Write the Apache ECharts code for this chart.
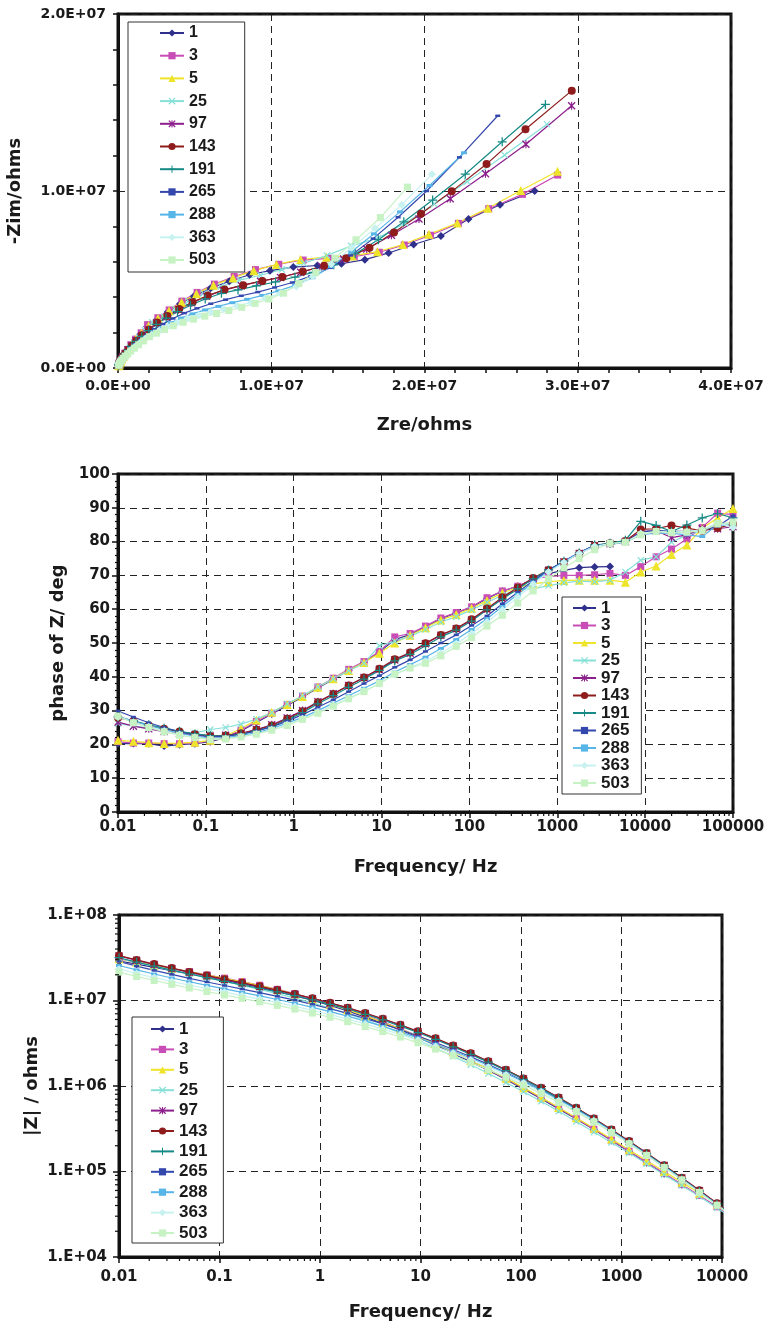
<!DOCTYPE html>
<html><head><meta charset="utf-8">
<script src="https://cdn.jsdelivr.net/npm/echarts@6/dist/echarts.min.js"></script>
<style>html,body{margin:0;padding:0;background:#fff}#c{width:767px;height:1326px}</style>
</head><body><div id="c"></div>
<script>
// ---------------- DATA ----------------
const seriesNames = ['1','3','5','25','97','143','191','265','288','363','503'];

// measurement frequencies (Hz)
const freqHz = [0.01,0.01496,0.02239,0.0335,0.05012,0.075,0.1122,0.1679,0.2512,0.3758,0.5623,0.8414,1.259,1.884,2.818,4.217,6.31,9.441,14.13,21.13,31.62,47.32,70.79,105.9,158.5,237.1,354.8,530.9,794.3,1189,1778,2661,3981,5957,8913,13340,19950,29850,44670,66830,100000];

// tick labels
const nyqReLabels = ['0.0E+00','1.0E+07','2.0E+07','3.0E+07','4.0E+07'];
const nyqImLabels = ['0.0E+00','1.0E+07','2.0E+07'];
const freqLabels = ['0.01','0.1','1','10','100','1000','10000','100000'];
const absZLabels = ['1.E+04','1.E+05','1.E+06','1.E+07','1.E+08'];

// phase of Z (deg) per series, same order as freqHz
const phase_1 = [20.2,20.3,20.2,19.5,19.9,20.2,20.8,22.0,24.0,26.5,29.0,31.5,34.0,36.7,39.3,41.9,44.3,47.3,51.0,52.5,54.8,57.2,58.9,60.6,63.2,65.3,66.8,68.8,70.5,71.5,72.3,72.5,72.6];
const phase_3 = [20.8,20.4,20.4,20.2,20.2,20.4,21.0,22.2,24.2,26.8,29.2,31.8,34.3,37.0,39.6,42.2,44.5,47.5,51.8,52.8,55.0,57.4,59.0,60.7,63.4,65.4,66.8,69.0,69.6,70.0,70.0,70.2,70.6,70.0,72.6,75.5,77.8,80.8,84.2,88.4,88.0];
const phase_5 = [21.2,20.9,20.5,20.3,20.4,20.6,21.2,22.5,24.7,27.2,29.5,31.8,34.2,36.9,39.4,41.9,44.2,47.0,50.0,52.3,54.5,56.8,58.4,60.3,62.6,64.8,66.5,67.5,68.1,68.5,68.6,68.6,68.6,68.0,71.0,72.8,76.2,79.0,84.0,87.0,89.8];
const phase_25 = [26.2,25.5,24.8,24.2,23.6,23.4,24.4,25.0,26.0,27.5,29.4,32.0,34.4,37.0,39.4,41.8,44.0,49.2,50.5,52.0,54.0,56.2,57.8,59.8,62.0,64.2,65.8,66.0,67.0,67.8,68.3,68.1,68.6,71.0,74.5,75.5,79.8,82.0,83.2,85.5,85.0];
const phase_97 = [26.6,25.4,24.6,23.8,23.2,22.8,22.5,22.7,23.3,24.4,25.8,27.8,30.0,32.6,35.0,37.4,39.8,42.2,45.0,47.0,49.8,52.3,54.2,56.8,60.0,63.2,66.2,69.0,71.5,74.0,76.5,78.8,79.4,80.0,83.0,83.2,81.2,82.0,83.8,83.8,84.4];
const phase_143 = [27.9,26.9,25.6,24.6,23.8,23.0,22.5,22.6,23.2,24.3,25.6,27.6,29.8,32.5,34.9,37.4,39.8,42.4,45.2,47.2,49.9,52.4,54.3,57.0,60.2,63.5,66.4,69.2,71.6,74.0,76.5,78.8,79.5,80.2,83.6,83.8,84.8,84.0,83.2,84.0,85.2];
const phase_191 = [28.1,27.0,25.8,24.8,23.9,23.1,22.6,22.5,23.0,24.0,25.3,27.2,29.4,32.0,34.4,36.9,39.3,41.9,44.7,46.6,49.2,51.8,53.8,56.5,59.8,63.0,66.0,69.0,71.6,74.2,76.6,79.0,79.5,80.4,86.0,84.8,83.0,84.9,87.0,88.3,87.0];
const phase_265 = [29.9,28.1,26.4,25.0,23.7,22.7,22.2,22.4,23.0,24.0,25.2,26.9,28.8,31.0,33.2,35.6,38.0,40.3,42.8,45.0,47.5,50.0,52.4,55.2,58.0,61.6,65.0,68.4,71.5,74.2,76.8,78.8,79.2,79.8,82.8,83.3,83.0,83.0,83.4,84.5,87.6];
const phase_288 = [28.3,26.9,25.6,24.4,23.3,22.4,21.9,22.0,22.6,23.5,24.7,26.3,28.0,30.0,32.2,34.4,36.6,38.8,41.4,43.6,45.8,48.4,51.0,54.0,57.2,60.8,64.4,68.0,71.2,74.0,76.6,78.6,79.3,79.8,82.0,82.6,82.5,82.0,81.5,85.0,84.6];
const phase_363 = [28.1,26.5,25.2,24.0,22.9,22.1,21.6,21.7,22.3,23.1,24.3,25.8,27.6,29.5,31.6,33.7,35.8,38.0,40.6,42.8,44.6,47.0,49.8,52.8,56.2,59.8,63.6,67.4,71.0,73.8,76.5,78.6,79.4,79.8,82.4,83.0,82.8,83.0,83.5,85.5,84.2];
const phase_503 = [28.4,26.4,25.0,23.7,22.7,22.0,21.4,21.6,22.2,23.0,24.2,25.6,27.4,29.2,31.3,33.5,35.6,38.0,40.8,42.6,44.0,46.2,49.0,51.6,55.0,58.2,61.8,65.4,69.0,72.2,75.0,77.6,79.5,79.8,82.0,83.0,82.6,82.8,83.2,85.2,85.8];

// |Z| (ohms) per series, same order as freqHz
const absZ_1 = [2.897e7,2.658e7,2.437e7,2.235e7,2.051e7,1.882e7,1.723e7,1.572e7,1.424e7,1.278e7,1.134e7,1.008e7,8.76e6,7.53e6,6.40e6,5.44e6,4.52e6,3.72e6,3.01e6,2.41e6,1.917e6,1.526e6,1.192e6,9.24e5,7.10e5,5.40e5,4.12e5,3.09e5,2.30e5,1.709e5,1.269e5,9.42e4,6.98e4];
const absZ_3 = [3.069e7,2.815e7,2.581e7,2.367e7,2.173e7,1.993e7,1.826e7,1.665e7,1.509e7,1.353e7,1.201e7,1.055e7,9.17e6,7.88e6,6.70e6,5.63e6,4.68e6,3.85e6,3.12e6,2.495e6,1.984e6,1.562e6,1.220e6,9.46e5,7.26e5,5.52e5,4.17e5,3.12e5,2.33e5,1.729e5,1.284e5,9.53e4,7.06e4,5.24e4,3.87e4,2.82e4];
const absZ_5 = [3.076e7,2.813e7,2.576e7,2.361e7,2.165e7,1.985e7,1.816e7,1.655e7,1.497e7,1.340e7,1.188e7,1.043e7,9.06e6,7.79e6,6.62e6,5.57e6,4.64e6,3.82e6,3.11e6,2.50e6,1.993e6,1.573e6,1.231e6,9.57e5,7.37e5,5.62e5,4.25e5,3.20e5,2.395e5,1.791e5,1.338e5,1.000e5,7.47e4,5.58e4,4.16e4,3.06e4];
const absZ_25 = [3.119e7,2.795e7,2.511e7,2.262e7,2.044e7,1.849e7,1.671e7,1.504e7,1.350e7,1.205e7,1.067e7,9.37e6,8.14e6,6.99e6,5.94e6,5.00e6,4.165e6,3.416e6,2.763e6,2.222e6,1.774e6,1.403e6,1.101e6,8.58e5,6.62e5,5.06e5,3.84e5,2.90e5,2.186e5,1.641e5,1.229e5,9.19e4,6.88e4,5.11e4,3.75e4,2.73e4];
const absZ_97 = [3.312e7,2.947e7,2.637e7,2.369e7,2.137e7,1.935e7,1.757e7,1.596e7,1.448e7,1.309e7,1.177e7,1.051e7,9.30e6,8.15e6,7.06e6,6.05e6,5.14e6,4.31e6,3.58e6,2.94e6,2.39e6,1.925e6,1.534e6,1.211e6,9.44e5,7.26e5,5.51e5,4.13e5,3.06e5,2.245e5,1.63e5,1.172e5,8.37e4,5.96e4,4.20e4,2.95e4];
const absZ_143 = [3.350e7,2.981e7,2.667e7,2.396e7,2.161e7,1.957e7,1.776e7,1.614e7,1.464e7,1.324e7,1.190e7,1.063e7,9.41e6,8.24e6,7.14e6,6.12e6,5.20e6,4.36e6,3.62e6,2.976e6,2.421e6,1.947e6,1.552e6,1.225e6,9.55e5,7.34e5,5.57e5,4.17e5,3.09e5,2.27e5,1.648e5,1.185e5,8.46e4,6.03e4,4.25e4,2.98e4];
const absZ_191 = [3.163e7,2.814e7,2.518e7,2.262e7,2.040e7,1.848e7,1.677e7,1.524e7,1.382e7,1.264e7,1.137e7,1.015e7,8.99e6,7.96e6,6.90e6,5.92e6,5.02e6,4.22e6,3.50e6,2.875e6,2.34e6,1.902e6,1.516e6,1.197e6,9.33e5,7.17e5,5.44e5,4.08e5,3.02e5,2.22e5,1.61e5,1.158e5,8.27e4,5.89e4,4.15e4,2.91e4];
const absZ_265 = [2.858e7,2.526e7,2.249e7,2.017e7,1.818e7,1.647e7,1.497e7,1.361e7,1.236e7,1.119e7,1.008e7,9.02e6,8.01e6,7.06e6,6.16e6,5.32e6,4.55e6,3.85e6,3.23e6,2.677e6,2.199e6,1.788e6,1.438e6,1.144e6,8.99e5,6.97e5,5.33e5,4.01e5,2.98e5,2.185e5,1.585e5,1.139e5,8.14e4,5.80e4,4.11e4,2.88e4];
const absZ_288 = [2.564e7,2.280e7,2.040e7,1.834e7,1.657e7,1.503e7,1.368e7,1.246e7,1.134e7,1.028e7,9.28e6,8.32e6,7.42e6,6.56e6,5.74e6,4.98e6,4.29e6,3.65e6,3.08e6,2.569e6,2.124e6,1.739e6,1.408e6,1.126e6,8.89e5,6.91e5,5.30e5,4.00e5,2.97e5,2.183e5,1.585e5,1.140e5,8.15e4,5.81e4,4.12e4,2.90e4];
const absZ_363 = [2.323e7,2.068e7,1.853e7,1.669e7,1.511e7,1.373e7,1.251e7,1.141e7,1.039e7,9.43e6,8.53e6,7.67e6,6.84e6,6.06e6,5.32e6,4.63e6,4.00e6,3.42e6,2.89e6,2.421e6,2.011e6,1.654e6,1.346e6,1.083e6,8.59e5,6.71e5,5.16e5,3.91e5,2.91e5,2.139e5,1.554e5,1.117e5,7.99e4,5.69e4,4.03e4,2.84e4];
const absZ_503 = [2.148e7,1.911e7,1.714e7,1.545e7,1.400e7,1.272e7,1.160e7,1.059e7,9.65e6,8.77e6,7.93e6,7.13e6,6.37e6,5.65e6,4.97e6,4.33e6,3.74e6,3.20e6,2.70e6,2.263e6,1.882e6,1.554e6,1.269e6,1.025e6,8.17e5,6.42e5,4.98e5,3.80e5,2.85e5,2.113e5,1.545e5,1.117e5,8.00e4,5.70e4,4.04e4,2.85e4];

// Nyquist points [Zre, -Zim] in units of 1E+07 ohms, low frequency first
const nyq_1 = [[2.719,1.000],[2.493,0.922],[2.287,0.842],[2.107,0.746],[1.929,0.698],[1.766,0.650],[1.611,0.612],[1.458,0.589],[1.301,0.579],[1.144,0.570],[0.992,0.550],[0.859,0.527],[0.726,0.490],[0.604,0.450],[0.495,0.405],[0.405,0.363],[0.324,0.316],[0.252,0.273],[0.190,0.234],[0.147,0.191],[0.111,0.157],[0.083,0.128],[0.062,0.102],[0.045,0.081],[0.032,0.063],[0.023,0.049],[0.016,0.038],[0.011,0.029],[0.008,0.022],[0.005,0.016],[0.004,0.012]];
const nyq_3 = [[2.869,1.090],[2.639,0.981],[2.419,0.900],[2.221,0.817],[2.039,0.750],[1.868,0.695],[1.705,0.654],[1.542,0.629],[1.376,0.619],[1.208,0.610],[1.049,0.586],[0.897,0.556],[0.758,0.517],[0.629,0.474],[0.516,0.427],[0.417,0.378],[0.334,0.328],[0.260,0.284],[0.193,0.245],[0.151,0.199],[0.114,0.163],[0.084,0.132],[0.063,0.105],[0.046,0.083],[0.033,0.065],[0.023,0.050],[0.016,0.038],[0.011,0.029],[0.008,0.022],[0.006,0.016],[0.004,0.012]];
const nyq_5 = [[2.868,1.112],[2.628,1.003],[2.413,0.902],[2.214,0.819],[2.029,0.755],[1.858,0.698],[1.693,0.657],[1.529,0.633],[1.360,0.626],[1.192,0.613],[1.034,0.585],[0.886,0.550],[0.750,0.509],[0.623,0.468],[0.512,0.420],[0.415,0.372],[0.333,0.323],[0.261,0.280],[0.200,0.238],[0.153,0.198],[0.116,0.162],[0.086,0.132],[0.065,0.105],[0.047,0.083],[0.034,0.065],[0.024,0.051],[0.017,0.039],[0.012,0.030],[0.009,0.022],[0.007,0.017],[0.005,0.013]];
const nyq_25 = [[2.799,1.377],[2.523,1.203],[2.279,1.053],[2.063,0.927],[1.873,0.818],[1.697,0.734],[1.522,0.690],[1.363,0.636],[1.213,0.592],[1.069,0.556],[0.930,0.524],[0.794,0.496],[0.671,0.460],[0.558,0.421],[0.459,0.377],[0.373,0.333],[0.300,0.289],[0.223,0.259],[0.176,0.213],[0.137,0.175],[0.104,0.144],[0.078,0.117],[0.059,0.093],[0.043,0.074],[0.031,0.058],[0.022,0.046],[0.016,0.035],[0.012,0.027],[0.009,0.020],[0.006,0.015],[0.005,0.011]];
const nyq_97 = [[2.960,1.482],[2.662,1.264],[2.398,1.098],[2.168,0.956],[1.964,0.842],[1.784,0.750],[1.623,0.672],[1.472,0.616],[1.330,0.573],[1.192,0.541],[1.060,0.512],[0.930,0.490],[0.806,0.465],[0.686,0.439],[0.578,0.405],[0.481,0.368],[0.395,0.329],[0.320,0.290],[0.253,0.253],[0.201,0.215],[0.155,0.183],[0.118,0.152],[0.090,0.124],[0.066,0.101],[0.047,0.082],[0.033,0.065],[0.022,0.050],[0.015,0.039],[0.010,0.029],[0.006,0.022],[0.004,0.016]];
const nyq_143 = [[2.961,1.567],[2.659,1.349],[2.405,1.152],[2.178,0.998],[1.977,0.872],[1.801,0.765],[1.641,0.680],[1.490,0.620],[1.346,0.577],[1.206,0.545],[1.073,0.514],[0.942,0.492],[0.817,0.468],[0.695,0.443],[0.586,0.409],[0.487,0.372],[0.399,0.333],[0.322,0.294],[0.255,0.257],[0.202,0.218],[0.156,0.185],[0.119,0.154],[0.091,0.126],[0.067,0.103],[0.048,0.083],[0.033,0.066],[0.022,0.051],[0.015,0.039],[0.010,0.029],[0.006,0.022],[0.004,0.016]];
const nyq_191 = [[2.789,1.489],[2.507,1.278],[2.266,1.095],[2.053,0.949],[1.865,0.826],[1.699,0.725],[1.548,0.645],[1.408,0.583],[1.272,0.540],[1.155,0.514],[1.028,0.486],[0.903,0.464],[0.783,0.441],[0.675,0.422],[0.569,0.390],[0.473,0.355],[0.388,0.318],[0.314,0.282],[0.249,0.246],[0.200,0.211],[0.155,0.179],[0.118,0.150],[0.090,0.122],[0.066,0.100],[0.047,0.081],[0.033,0.064],[0.022,0.050],[0.015,0.038],[0.010,0.029],[0.006,0.021],[0.004,0.016]];
const nyq_265 = [[2.478,1.425],[2.228,1.190],[2.014,1.000],[1.828,0.852],[1.665,0.731],[1.519,0.636],[1.386,0.566],[1.258,0.519],[1.138,0.483],[1.022,0.455],[0.912,0.429],[0.804,0.408],[0.702,0.386],[0.605,0.363],[0.515,0.337],[0.433,0.310],[0.359,0.280],[0.294,0.249],[0.237,0.219],[0.189,0.189],[0.149,0.162],[0.115,0.137],[0.088,0.114],[0.065,0.094],[0.048,0.076],[0.033,0.061],[0.023,0.048],[0.015,0.037],[0.010,0.028],[0.006,0.021],[0.004,0.015]];
const nyq_288 = [[2.258,1.216],[2.033,1.031],[1.840,0.882],[1.670,0.758],[1.522,0.655],[1.390,0.573],[1.269,0.510],[1.155,0.467],[1.047,0.436],[0.942,0.410],[0.843,0.388],[0.746,0.369],[0.655,0.348],[0.568,0.328],[0.486,0.306],[0.411,0.282],[0.344,0.256],[0.284,0.229],[0.231,0.204],[0.186,0.177],[0.148,0.152],[0.116,0.130],[0.089,0.109],[0.066,0.091],[0.048,0.075],[0.034,0.060],[0.023,0.048],[0.015,0.037],[0.010,0.028],[0.006,0.021],[0.004,0.015]];
const nyq_363 = [[2.049,1.094],[1.851,0.923],[1.677,0.789],[1.525,0.679],[1.392,0.588],[1.272,0.517],[1.163,0.461],[1.060,0.422],[0.961,0.394],[0.868,0.370],[0.778,0.351],[0.690,0.334],[0.607,0.317],[0.528,0.298],[0.453,0.279],[0.386,0.257],[0.324,0.234],[0.269,0.210],[0.220,0.188],[0.178,0.165],[0.143,0.141],[0.113,0.121],[0.087,0.103],[0.065,0.086],[0.048,0.071],[0.034,0.058],[0.023,0.046],[0.015,0.036],[0.010,0.028],[0.006,0.021],[0.004,0.015]];
const nyq_503 = [[1.889,1.022],[1.712,0.850],[1.553,0.724],[1.415,0.621],[1.291,0.540],[1.180,0.477],[1.080,0.423],[0.985,0.390],[0.894,0.365],[0.807,0.343],[0.723,0.325],[0.643,0.308],[0.566,0.293],[0.493,0.276],[0.425,0.258],[0.361,0.239],[0.304,0.218],[0.252,0.197],[0.205,0.177],[0.167,0.153],[0.135,0.131],[0.108,0.112],[0.083,0.096],[0.064,0.080],[0.047,0.067],[0.034,0.055],[0.024,0.044],[0.016,0.035],[0.010,0.027],[0.007,0.020],[0.004,0.015]];

// axis minor tick positions (log axes)
const logMantissas = [2,3,4,5,6,7,8,9];
const freqDecades2 = [0.01,0.1,1,10,100,1000,10000];
const freqDecades3 = [0.01,0.1,1,10,100,1000];
const absZDecades = [1e4,1e5,1e6,1e7];

// ---------------- STYLE ----------------
const NYQ_UNIT = 1e7;
const X_PATH = 'path://M0,1.2 L1.2,0 L5,3.8 L8.8,0 L10,1.2 L6.2,5 L10,8.8 L8.8,10 L5,6.2 L1.2,10 L0,8.8 L3.8,5 Z';
const AST_PATH = 'path://M0,1.2 L1.2,0 L5,3.8 L8.8,0 L10,1.2 L6.2,5 L10,8.8 L8.8,10 L5,6.2 L1.2,10 L0,8.8 L3.8,5 Z M4.3,0 L5.7,0 L5.7,10 L4.3,10 Z';
const PLUS_PATH = 'path://M4.3,0 L5.7,0 L5.7,4.3 L10,4.3 L10,5.7 L5.7,5.7 L5.7,10 L4.3,10 L4.3,5.7 L0,5.7 L0,4.3 L4.3,4.3 Z';
const styleBy = {
  '1':  {color:'#2f2f8c', symbol:'diamond', size:8},
  '3':  {color:'#c94db6', symbol:'rect', size:7},
  '5':  {color:'#eee42a', symbol:'triangle', size:9},
  '25': {color:'#86e0d8', symbol:X_PATH, size:7},
  '97': {color:'#8c1f8c', symbol:AST_PATH, size:8},
  '143':{color:'#8e1c1c', symbol:'circle', size:8},
  '191':{color:'#168a86', symbol:PLUS_PATH, size:9},
  '265':{color:'#3447ad', symbol:'rect', size:[5,2.5]},
  '288':{color:'#58b5e8', symbol:'rect', size:[6,3]},
  '363':{color:'#c8f2ef', symbol:'diamond', size:8},
  '503':{color:'#c6f2c4', symbol:'rect', size:7}
};
const nyqBy = {'1':nyq_1,'3':nyq_3,'5':nyq_5,'25':nyq_25,'97':nyq_97,'143':nyq_143,'191':nyq_191,'265':nyq_265,'288':nyq_288,'363':nyq_363,'503':nyq_503};
const phaseBy = {'1':phase_1,'3':phase_3,'5':phase_5,'25':phase_25,'97':phase_97,'143':phase_143,'191':phase_191,'265':phase_265,'288':phase_288,'363':phase_363,'503':phase_503};
const absZBy = {'1':absZ_1,'3':absZ_3,'5':absZ_5,'25':absZ_25,'97':absZ_97,'143':absZ_143,'191':absZ_191,'265':absZ_265,'288':absZ_288,'363':absZ_363,'503':absZ_503};

const TXT = '#1a1a1a';
const TICKFONT = "'DejaVu Sans', sans-serif";
const LEGFONT = "'Liberation Sans', Arial, sans-serif";
const dashed = {show:true, lineStyle:{type:[7,5], color:'#222', width:1}};
const axLine = {show:true, onZero:false, lineStyle:{color:'#111', width:3}};
function tick(len){ return {show:true, inside:false, length:len, lineStyle:{color:'#111', width:1.5}}; }
function lab(size, margin, fmt){ return {show:true, color:TXT, fontFamily:TICKFONT, fontWeight:'bold', fontSize:size, margin:margin, formatter:fmt, showMinLabel:true, showMaxLabel:true, hideOverlap:false}; }
function nameStyle(size){ return {color:TXT, fontFamily:TICKFONT, fontWeight:'bold', fontSize:size}; }
const logIdx = v => Math.round(Math.log10(v));

function lineSeries(name, xi, yi, data){
  const st = styleBy[name];
  return {type:'line', name:name, xAxisIndex:xi, yAxisIndex:yi, data:data,
    symbol:st.symbol, symbolSize:st.size, showSymbol:true, showAllSymbol:true,
    lineStyle:{color:st.color, width:1.2}, itemStyle:{color:st.color, borderWidth:0},
    emphasis:{disabled:true}, clip:true, animation:false};
}
function minorTicks(xi, yi, points, dir){
  return {type:'custom', xAxisIndex:xi, yAxisIndex:yi, silent:true, clip:false, z:6, animation:false,
    data: points,
    renderItem: function(params, api){
      const p = api.coord([api.value(0), api.value(1)]);
      const shape = dir === 'x' ? {x1:p[0], y1:p[1], x2:p[0], y2:p[1]+4} : {x1:p[0], y1:p[1], x2:p[0]-4, y2:p[1]};
      return {type:'line', shape:shape, style:{stroke:'#111', lineWidth:1.2}};
    }};
}

const series = [];
seriesNames.forEach(n => {
  series.push(lineSeries(n, 0, 0, nyqBy[n].map(p => [p[0]*NYQ_UNIT, p[1]*NYQ_UNIT])));
  series.push(lineSeries(n, 1, 1, phaseBy[n].map((v,i) => [freqHz[i], v])));
  series.push(lineSeries(n, 2, 2, absZBy[n].map((v,i) => [freqHz[i], v])));
});
const minor2x = [], minor3x = [], minor3y = [];
freqDecades2.forEach(d => logMantissas.forEach(m => minor2x.push([d*m, 0])));
freqDecades3.forEach(d => logMantissas.forEach(m => minor3x.push([d*m, 1e4])));
absZDecades.forEach(d => logMantissas.forEach(m => minor3y.push([0.01, d*m])));
series.push(minorTicks(1, 1, minor2x, 'x'));
series.push(minorTicks(2, 2, minor3x, 'x'));
series.push(minorTicks(2, 2, minor3y, 'y'));

function legend(left, top, itemW, gap, pad, fs){
  return {show:true, orient:'vertical', left:left, top:top, data:seriesNames.slice(),
    itemWidth:itemW, itemHeight:9, itemGap:gap, padding:pad, selectedMode:false,
    borderColor:'#333', borderWidth:1, backgroundColor:'#fff', borderRadius:0,
    textStyle:{color:TXT, fontFamily:LEGFONT, fontWeight:'bold', fontSize:fs, lineHeight:fs}};
}

const option = {
  animation:false,
  backgroundColor:'#fff',
  grid:[
    {left:118, top:14, width:613, height:354, show:true, borderColor:'#111', borderWidth:3, containLabel:false, outerBoundsMode:'none'},
    {left:118, top:474, width:615, height:338, show:true, borderColor:'#111', borderWidth:3, containLabel:false, outerBoundsMode:'none'},
    {left:119, top:915, width:603, height:342, show:true, borderColor:'#111', borderWidth:3, containLabel:false, outerBoundsMode:'none'}
  ],
  xAxis:[
    {type:'value', gridIndex:0, min:0, max:4e7, interval:1e7, axisLine:axLine, axisTick:tick(5),
     minorTick:{show:true, splitNumber:5, length:5, lineStyle:{color:'#111', width:1.5}}, minorSplitLine:{show:false},
     splitLine:dashed, axisLabel:lab(14, 11, v => nyqReLabels[Math.round(v/1e7)]),
     name:'Zre/ohms', nameLocation:'middle', nameGap:48, nameTextStyle:nameStyle(18), nameMoveOverlap:false},
    {type:'log', logBase:10, gridIndex:1, min:0.01, max:100000, splitNumber:10, axisLine:axLine, axisTick:tick(6),
     minorTick:{show:false}, splitLine:dashed, axisLabel:lab(15, 8, v => freqLabels[logIdx(v)+2]),
     name:'Frequency/ Hz', nameLocation:'middle', nameGap:46, nameTextStyle:nameStyle(18), nameMoveOverlap:false},
    {type:'log', logBase:10, gridIndex:2, min:0.01, max:10000, splitNumber:10, axisLine:axLine, axisTick:tick(6),
     minorTick:{show:false}, splitLine:dashed, axisLabel:lab(15, 13, v => freqLabels[logIdx(v)+2]),
     name:'Frequency/ Hz', nameLocation:'middle', nameGap:46, nameTextStyle:nameStyle(18), nameMoveOverlap:false}
  ],
  yAxis:[
    {type:'value', gridIndex:0, min:0, max:2e7, interval:1e7, axisLine:axLine, axisTick:tick(5),
     minorTick:{show:true, splitNumber:5, length:5, lineStyle:{color:'#111', width:1.5}}, minorSplitLine:{show:false},
     splitLine:dashed, axisLabel:lab(14, 12, v => nyqImLabels[Math.round(v/1e7)]),
     name:'-Zim/ohms', nameLocation:'middle', nameGap:94, nameTextStyle:nameStyle(18), nameMoveOverlap:false},
    {type:'value', gridIndex:1, min:0, max:100, interval:10, axisLine:axLine, axisTick:tick(6),
     minorTick:{show:true, splitNumber:5, length:3, lineStyle:{color:'#111', width:1.2}}, minorSplitLine:{show:false},
     splitLine:dashed, axisLabel:lab(15, 8),
     name:'phase of Z/ deg', nameLocation:'middle', nameGap:51, nameTextStyle:nameStyle(18), nameMoveOverlap:false},
    {type:'log', logBase:10, gridIndex:2, min:1e4, max:1e8, splitNumber:10, axisLine:axLine, axisTick:tick(6),
     minorTick:{show:false}, splitLine:dashed, axisLabel:lab(15, 12, v => absZLabels[logIdx(v)-4]),
     name:'|Z| / ohms', nameLocation:'middle', nameGap:78, nameTextStyle:nameStyle(18), nameMoveOverlap:false}
  ],
  legend:[
    legend(128, 22, 24, 6.7, [3,29,4,31], 16),
    legend(562, 597, 23, 0.5, [2.5,12,2.5,10], 17),
    legend(132, 1017, 23, 3.4, [3.5,16,1.5,18], 17)
  ],
  series: series
};
const chart = echarts.init(document.getElementById('c'), null, {renderer:'canvas', width:767, height:1326});
chart.setOption(option);
</script>
</body></html>
